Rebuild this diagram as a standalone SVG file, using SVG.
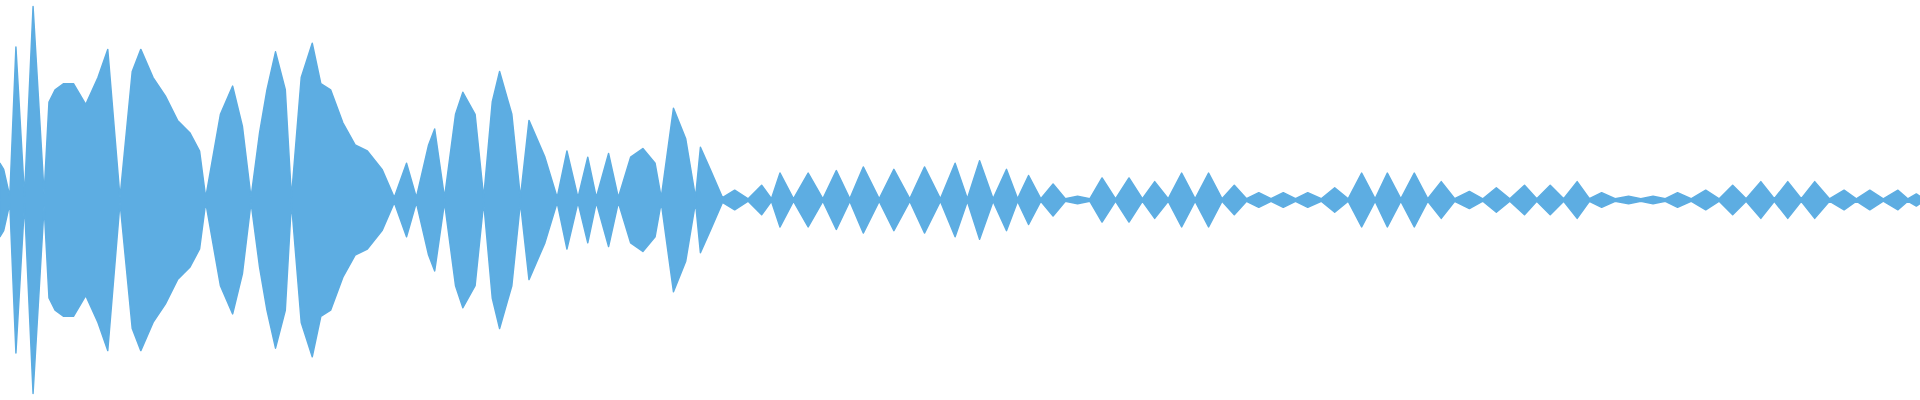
<svg xmlns="http://www.w3.org/2000/svg" xmlns:xlink="http://www.w3.org/1999/xlink" width="1920" height="400" viewBox="0 0 1920 400">
<defs><style>.w{fill:#5dade2;stroke:#5dade2;stroke-width:1.2;stroke-linejoin:round}</style>
<path id="top" class="w" d="M0,0 L0,-30 3,-25 8,-3 13,-125 20,-3 27,-158 36,-5 40,-80 45,-90 52,-95 60,-95 70,-78 80,-100 88,-123 98,-2 108,-105 115,-123 125,-100 135,-85 145,-65 155,-55 163,-40 168,-2 180,-70 190,-93 198,-60 205,-2 212,-55 218,-90 225,-121 233,-90 238,-2 246,-100 255,-128 262,-95 270,-90 280,-63 290,-45 300,-40 312,-25 322,-2 332,-30 340,-2 350,-45 355,-58 363,-2 372,-70 378,-88 388,-70 395,-2 402,-80 408,-105 418,-70 425,-2 432,-65 445,-35 455,-2 463,-40 472,-2 480,-35 487,-2 497,-38 505,-2 515,-35 525,-42 535,-30 540,-2 550,-75 560,-50 568,-2 572,-43 580,-25 590,-2 600,-8 611,-1 622,-12 630,-1 637,-22 648,-1 660,-22 672,-1 683,-24 694,-1 705,-27 718,-1 730,-25 743,-1 755,-27 768,-1 780,-30 790,-1 800,-32 811,-1 822,-25 831,-1 840,-20 850,-1 860,-13 870,-1 880,-3 890,-1 900,-18 911,-1 922,-18 933,-1 943,-15 954,-1 965,-22 976,-1 987,-22 998,-1 1008,-12 1018,-1 1028,-6 1038,-1 1048,-6 1058,-1 1068,-6 1079,-1 1090,-10 1101,-1 1112,-22 1123,-1 1133,-22 1144,-1 1155,-22 1166,-1 1177,-15 1188,-1 1200,-7 1211,-1 1222,-10 1233,-1 1245,-12 1255,-1 1266,-12 1277,-1 1288,-15 1298,-1 1308,-6 1319,-1 1330,-3 1340,-1 1350,-3 1360,-1 1370,-6 1381,-1 1393,-8 1404,-1 1415,-12 1426,-1 1438,-15 1449,-1 1460,-15 1471,-1 1482,-15 1494,-1 1506,-8 1516,-1 1527,-8 1538,-1 1550,-8 1558,-1 1565,-5 1568,-3 1568,0 Z"/>
</defs>
<g id="waveform" transform="translate(0,200) scale(1.2245)">
<use xlink:href="#top"/>
<use xlink:href="#top" transform="scale(1,-1)"/>
</g>
</svg>
